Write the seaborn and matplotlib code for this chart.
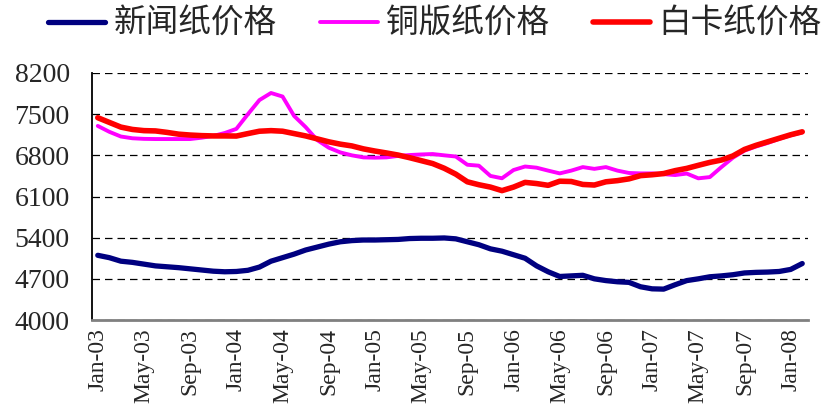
import numpy as np
import pandas as pd
import matplotlib
matplotlib.use("Agg")
import matplotlib.pyplot as plt
import seaborn as sns

# ---- data (monthly, Jan-03 .. Feb-08) ----
months = pd.date_range("2003-01-01", periods=62, freq="MS").strftime("%b-%y").tolist()

newsprint = [5100, 5060, 5000, 4980, 4950, 4920, 4905, 4890, 4870, 4850,
             4830, 4820, 4825, 4845, 4900, 5000, 5060, 5120, 5190, 5240,
             5290, 5330, 5350, 5360, 5360, 5365, 5370, 5385, 5390, 5390,
             5395, 5380, 5330, 5280, 5210, 5170, 5110, 5050, 4920, 4820,
             4740, 4750, 4760, 4700, 4670, 4650, 4640, 4565, 4530, 4525,
             4600, 4670, 4700, 4735, 4750, 4770, 4800, 4810, 4815, 4825,
             4860, 4960]

coated = [7300, 7200, 7120, 7090, 7080, 7077, 7077, 7077, 7077, 7100,
          7130, 7180, 7250, 7500, 7740, 7860, 7800, 7470, 7280, 7060,
          6930, 6850, 6800, 6765, 6760, 6765, 6790, 6805, 6815, 6822,
          6800, 6780, 6640, 6624, 6450, 6410, 6550, 6610, 6590, 6540,
          6493, 6540, 6600, 6570, 6600, 6540, 6500, 6493, 6493, 6480,
          6465, 6490, 6409, 6430, 6600, 6760, 6880, 6950, 7010, 7080,
          7140, 7190]

whitecard = [7440, 7360, 7280, 7240, 7220, 7215, 7190, 7160, 7145, 7135,
             7130, 7130, 7128, 7170, 7210, 7220, 7210, 7170, 7130, 7080,
             7030, 6990, 6960, 6910, 6873, 6840, 6805, 6760, 6710, 6660,
             6580, 6480, 6350, 6300, 6260, 6200, 6260, 6340, 6320, 6290,
             6360, 6355, 6305, 6295, 6350, 6370, 6400, 6455, 6470, 6490,
             6540, 6578, 6630, 6680, 6720, 6790, 6900, 6970, 7030, 7090,
             7150, 7200]

tick_labels = ["Jan-03", "May-03", "Sep-03", "Jan-04", "May-04", "Sep-04",
               "Jan-05", "May-05", "Sep-05", "Jan-06", "May-06", "Sep-06",
               "Jan-07", "May-07", "Sep-07", "Jan-08"]
y_ticks = [4000, 4700, 5400, 6100, 6800, 7500, 8200]

series_names = ["新闻纸价格", "铜版纸价格", "白卡纸价格"]
series_values = [newsprint, coated, whitecard]
colors = ["#000080", "#FF00FF", "#FF0000"]
widths = [3.8, 2.8, 4.0]

sns.set_style("white")
plt.rcParams["font.family"] = ["Liberation Serif", "Noto Sans CJK SC", "DejaVu Sans"]

fig = plt.figure(figsize=(8.25, 4.09), dpi=100)
ax = fig.add_axes([92 / 825, 1 - 320 / 409, 716 / 825, 247 / 409])

for name, vals, c, w in zip(series_names, series_values, colors, widths):
    d = pd.DataFrame({"idx": np.arange(len(vals)), "value": vals})
    sns.lineplot(data=d, x="idx", y="value", color=c, linewidth=w, label=name,
                 ax=ax, solid_capstyle="round", solid_joinstyle="round")

ax.set_xlim(-0.5, 61.5)
ax.set_ylim(4000, 8200)
ax.set_yticks(y_ticks)
ax.set_yticklabels([str(v) for v in y_ticks], fontsize=20, family="Liberation Serif")
ax.tick_params(axis="y", length=0, pad=16)

major_pos = [months.index(t) for t in tick_labels]
ax.set_xticks(major_pos)
ax.set_xticklabels(tick_labels, rotation=90, fontsize=17, family="Liberation Serif")
ax.tick_params(axis="x", which="major", length=0, pad=6)
ax.set_xticks(np.arange(-0.5, 61, 4), minor=True)
ax.tick_params(axis="x", which="minor", length=5, direction="in", width=1.2, color="black")

ax.set_xlabel("")
ax.set_ylabel("")
ax.yaxis.grid(True, color="black", linestyle=(0, (6, 4)), linewidth=0.9)
ax.xaxis.grid(False)
for s in ["top", "right"]:
    ax.spines[s].set_visible(False)
ax.spines["left"].set_color("black")
ax.spines["left"].set_linewidth(1.3)
ax.spines["bottom"].set_color("#808080")
ax.spines["bottom"].set_linewidth(2)

handles, labels = ax.get_legend_handles_labels()
ax.get_legend().remove()
fig.legend(handles, labels, loc="center left", bbox_to_anchor=(48 / 825, 1 - 24 / 409),
           ncol=3, frameon=False, prop={"family": "Noto Sans CJK SC", "size": 23.5},
           handlelength=1.75, handletextpad=0.25, columnspacing=1.35, borderpad=0,
           borderaxespad=0)

fig.savefig("out.png", dpi=100)
